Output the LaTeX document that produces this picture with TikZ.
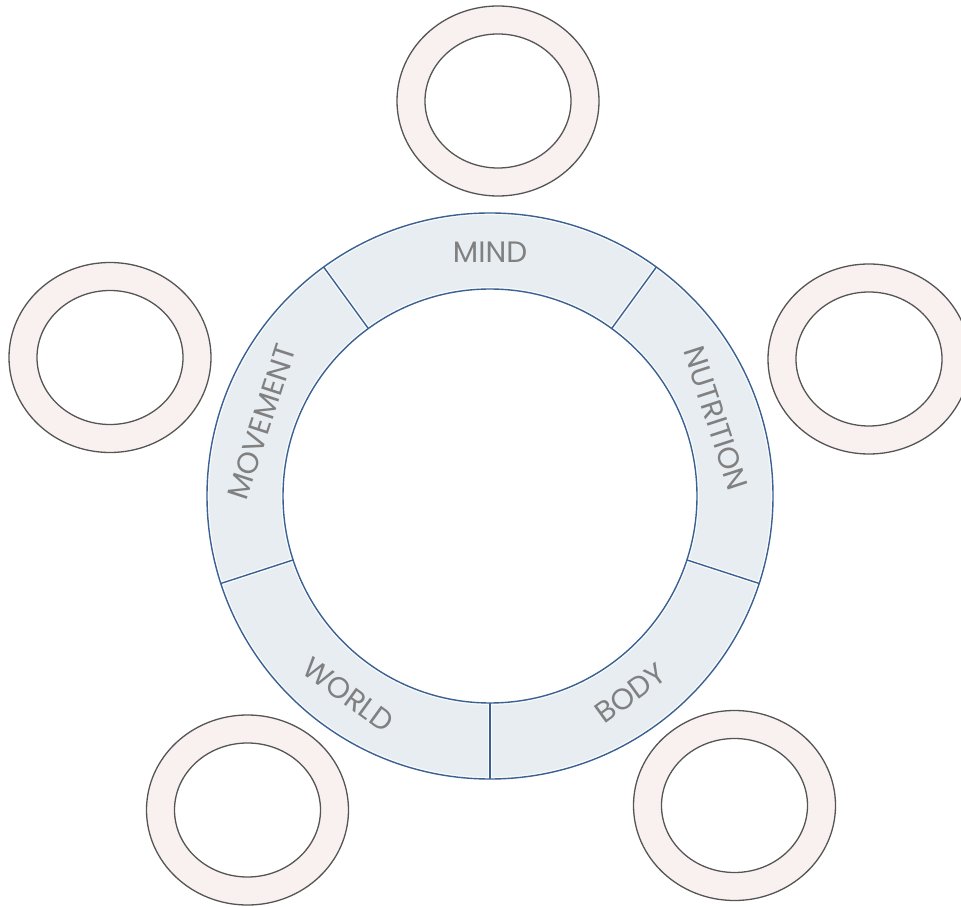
\documentclass[tikz,border=0pt]{standalone}
\usepackage{fontspec}
\setmainfont{Poppins}
\definecolor{ringfill}{HTML}{E8EDF2}
\definecolor{ringline}{HTML}{3A6191}
\definecolor{pinkfill}{HTML}{F8F1EF}
\definecolor{grayline}{HTML}{555555}
\definecolor{textgray}{HTML}{808080}
\tikzset{
  seglabel/.style={text=textgray, font=\fontsize{29.5}{30}\selectfont, inner sep=0pt},
  smallring/.style={draw=grayline, line width=1.3pt},
}
\newcommand{\segpath}[1]{(#1-36:283) arc[start angle=#1-36, end angle=#1+36, radius=283] -- (#1+36:207) arc[start angle=#1+36, end angle=#1-36, radius=207] -- cycle}
\newcommand{\smallringat}[1]{%
  \path[fill=pinkfill, even odd rule] (#1) ellipse[x radius=101, y radius=95] (#1) ellipse[x radius=73, y radius=67];
  \draw[smallring] (#1) ellipse[x radius=101, y radius=95];
  \draw[smallring] (#1) ellipse[x radius=73, y radius=67];}
\begin{document}
\begin{tikzpicture}[x=1pt,y=1pt]
\useasboundingbox (0,0) rectangle (961,906);
\fill[white] (0,0) rectangle (961,906);
% small rings
\coordinate (rtop) at (498,805);
\coordinate (rleft) at (110,548.5);
\coordinate (rright) at (869,547);
\coordinate (rbl) at (247.5,96);
\coordinate (rbr) at (734.5,100.5);
\smallringat{rtop}
\smallringat{rleft}
\smallringat{rright}
\smallringat{rbl}
\smallringat{rbr}
% main ring
\begin{scope}[shift={(490,410)}]
  \coordinate (ctr) at (0,0);
  \foreach \a in {90,18,-54,-126,162}{
    \fill[ringfill] \segpath{\a};
    \begin{scope}
      \clip \segpath{\a};
      \draw[white, line width=4pt, opacity=0.8] \segpath{\a};
    \end{scope}
  }
  \draw[ringline, line width=1.4pt] (0,0) circle[radius=283];
  \draw[ringline, line width=1.4pt] (0,0) circle[radius=207];
  \foreach \a in {54,126,198,270,342}{
    \draw[ringline, line width=1.4pt] (\a:207) -- (\a:283);
  }
  \node[seglabel] (mind) at (90:244) {MIND};
  \node[seglabel, rotate=-72] (nutrition) at (19:239) {NUTRITION};
  \node[seglabel, rotate=36] (body) at (-54.5:242) {BODY};
  \node[seglabel, rotate=-36] (world) at (234.5:244) {WORLD};
  \node[seglabel, rotate=72] (movement) at (162:240) {MOVEMENT};
\end{scope}
\end{tikzpicture}
\end{document}
